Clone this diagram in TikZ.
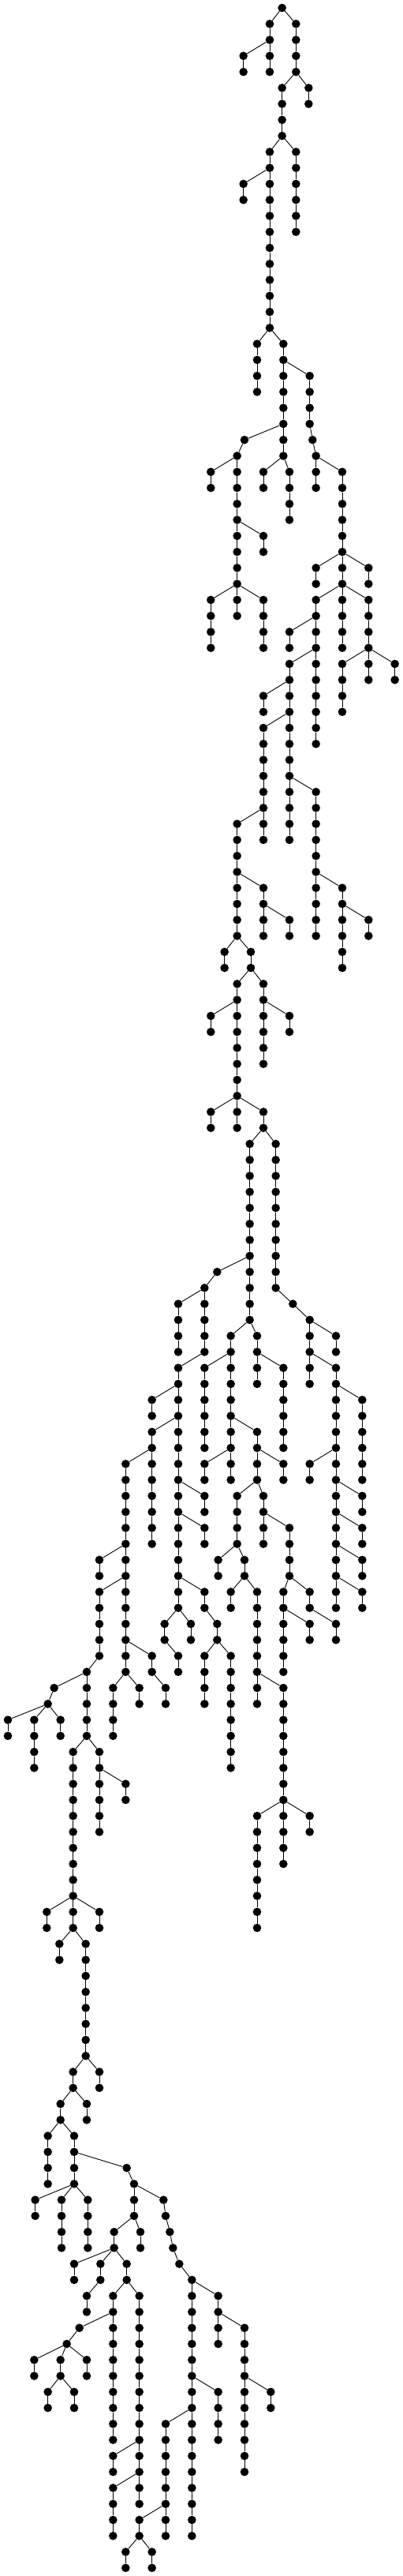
\documentclass[tikz,border=0pt]{standalone}
\usepackage{tikz}

\begin{document}
\begin{tikzpicture}[
        x=0.33333pt,
        y=-20.267pt,
        dot/.style={
            circle,
            fill=black,
            inner sep=0pt,
            minimum size=10.6pt
        },
        link/.style={
            draw=black,
            line width=0.9pt
        }
    ]

        \useasboundingbox (0,-0.4934) rectangle (1533,160.507);

        % vertical runs of dots: x / first level / last level
        \foreach \x/\a/\b in {
            1073/0/0, 1026/1/4, 926/3/4, 1126/1/4, 1073/5/8, 1174/5/6,
            1026/9/20, 926/11/12, 1126/9/14, 978/21/24, 1078/21/28,
            1178/23/26, 1189/27/27, 1202/28/30, 1302/29/40, 930/27/27,
            902/28/38, 802/29/30, 1002/33/34, 802/37/40, 1002/37/40,
            1002/29/30, 1101/29/32, 1202/35/36, 1402/35/36, 1202/37/46,
            1101/39/40, 1402/37/42, 1101/41/52, 1002/43/44, 1002/45/52,
            902/51/58, 1202/49/58, 1302/41/44, 1502/41/42, 1002/55/58,
            1101/57/58, 854/59/60, 954/59/60, 902/61/70, 802/63/64,
            1002/61/66, 1101/63/64, 1302/55/60, 1402/57/58, 802/69/70,
            1002/69/70, 950/71/82, 1049/71/80, 826/79/79, 778/80/84,
            678/81/84, 678/85/100, 578/87/88, 578/89/96, 478/91/104,
            778/93/94, 378/97/98, 378/99/103, 330/104/108, 206/105/105,
            182/106/106, 30/107/108, 130/107/110, 230/107/108, 578/103/104,
            630/105/106, 430/105/108, 530/105/106, 778/95/96, 626/101/102,
            678/103/104, 726/101/102, 778/99/100, 826/101/102, 778/103/106,
            878/103/110, 778/85/90, 878/83/92, 978/89/92, 778/91/92,
            1078/91/92, 902/93/96, 830/97/98, 930/97/98, 878/99/100,
            978/99/106, 1078/105/116, 978/113/120, 1178/113/114, 1002/93/96,
            1101/95/98, 1078/99/104, 1178/101/102, 1178/99/100, 1278/101/102,
            978/83/86, 1078/85/90, 1114/81/81, 1178/82/86, 1278/83/84,
            1278/85/100, 1378/87/92, 1178/91/92, 1378/93/94, 1378/95/96,
            1378/97/98, 1378/99/100, 378/109/114, 478/111/112, 278/109/120,
            178/119/120, 378/119/120, 226/121/122, 326/121/128, 378/129/130,
            278/129/130, 330/131/132, 230/131/132, 182/133/136, 282/133/136,
            482/135/135, 134/137/138, 234/137/140, 334/137/140, 510/136/138,
            622/137/137, 434/139/140, 534/139/140, 282/141/142, 382/141/142,
            330/143/144, 482/141/142, 430/143/152, 302/145/145, 254/146/146,
            130/147/148, 230/147/148, 330/147/148, 182/149/150, 282/149/150,
            530/143/156, 430/153/154, 430/155/158, 630/138/138, 646/139/139,
            658/140/140, 682/141/141, 730/142/158, 830/143/146, 930/145/154,
            1030/149/150, 830/149/152, 630/151/158, 530/157/158, 478/159/160,
            578/159/160}{
            \foreach \l in {\a,...,\b}{
                \node[dot] (p\x-\l) at (\x,\l) {};
                \ifnum\l>\a
                    \pgfmathtruncatemacro\up{\l-1}
                    \draw[link] (p\x-\up) -- (p\x-\l);
                \fi
            }
        }

        % each run hangs from its parent: parent x / level / child x / level
        \foreach \px/\pl/\x/\l in {
            1073/0/1026/1, 1073/0/1126/1, 1026/2/926/3, 1126/4/1073/5,
            1126/4/1174/5, 1073/8/1026/9, 1073/8/1126/9, 1026/10/926/11,
            1026/20/978/21, 1026/20/1078/21, 1078/22/1178/23, 1178/26/1189/27,
            1189/27/1202/28, 1202/28/1302/29, 1078/26/930/27, 930/27/902/28,
            902/28/802/29, 902/32/1002/33, 902/36/802/37, 902/36/1002/37,
            1078/28/1002/29, 1078/28/1101/29, 1302/34/1202/35, 1302/34/1402/35,
            1302/36/1202/37, 1202/38/1101/39, 1302/36/1402/37, 1202/40/1101/41,
            1101/42/1002/43, 1101/44/1002/45, 1002/50/902/51, 1101/48/1202/49,
            1402/40/1302/41, 1402/40/1502/41, 902/54/1002/55, 1002/56/1101/57,
            902/58/854/59, 902/58/954/59, 954/60/902/61, 902/62/802/63,
            954/60/1002/61, 1002/62/1101/63, 1202/54/1302/55, 1302/56/1402/57,
            902/68/802/69, 902/68/1002/69, 1002/70/950/71, 1002/70/1049/71,
            950/78/826/79, 826/79/778/80, 778/80/678/81, 778/84/678/85,
            678/86/578/87, 678/88/578/89, 578/90/478/91, 678/92/778/93,
            478/96/378/97, 478/98/378/99, 378/103/330/104, 330/104/206/105,
            206/105/182/106, 182/106/30/107, 182/106/130/107, 182/106/230/107,
            478/102/578/103, 578/104/630/105, 478/104/430/105, 478/104/530/105,
            678/94/778/95, 678/100/626/101, 626/102/678/103, 678/100/726/101,
            678/98/778/99, 778/100/826/101, 826/102/778/103, 826/102/878/103,
            878/84/778/85, 950/82/878/83, 878/88/978/89, 878/90/778/91,
            978/90/1078/91, 978/92/902/93, 902/96/830/97, 902/96/930/97,
            930/98/878/99, 930/98/978/99, 978/104/1078/105, 1078/112/978/113,
            1078/112/1178/113, 978/92/1002/93, 1002/94/1101/95, 1101/98/1078/99,
            1078/100/1178/101, 1101/98/1178/99, 1178/100/1278/101, 950/82/978/83,
            978/84/1078/85, 1049/80/1114/81, 1114/81/1178/82, 1178/82/1278/83,
            1178/84/1278/85, 1278/86/1378/87, 1278/90/1178/91, 1278/92/1378/93,
            1278/94/1378/95, 1278/96/1378/97, 1278/98/1378/99, 330/108/378/109,
            378/110/478/111, 330/108/278/109, 278/118/178/119, 278/118/378/119,
            278/120/226/121, 278/120/326/121, 326/128/378/129, 326/128/278/129,
            278/130/330/131, 278/130/230/131, 230/132/182/133, 230/132/282/133,
            282/134/482/135, 282/136/134/137, 282/136/234/137, 282/136/334/137,
            482/135/510/136, 510/136/622/137, 510/138/434/139, 510/138/534/139,
            434/140/282/141, 434/140/382/141, 382/142/330/143, 434/140/482/141,
            482/142/430/143, 430/144/302/145, 302/145/254/146, 254/146/130/147,
            254/146/230/147, 254/146/330/147, 230/148/182/149, 230/148/282/149,
            482/142/530/143, 530/152/430/153, 530/154/430/155, 622/137/630/138,
            630/138/646/139, 646/139/658/140, 658/140/682/141, 682/141/730/142,
            730/142/830/143, 830/144/930/145, 930/148/1030/149, 730/148/830/149,
            730/150/630/151, 630/156/530/157, 530/158/478/159, 530/158/578/159}{
            \draw[link] (p\px-\pl) -- (p\x-\l);
        }

    \end{tikzpicture}
\end{document}
